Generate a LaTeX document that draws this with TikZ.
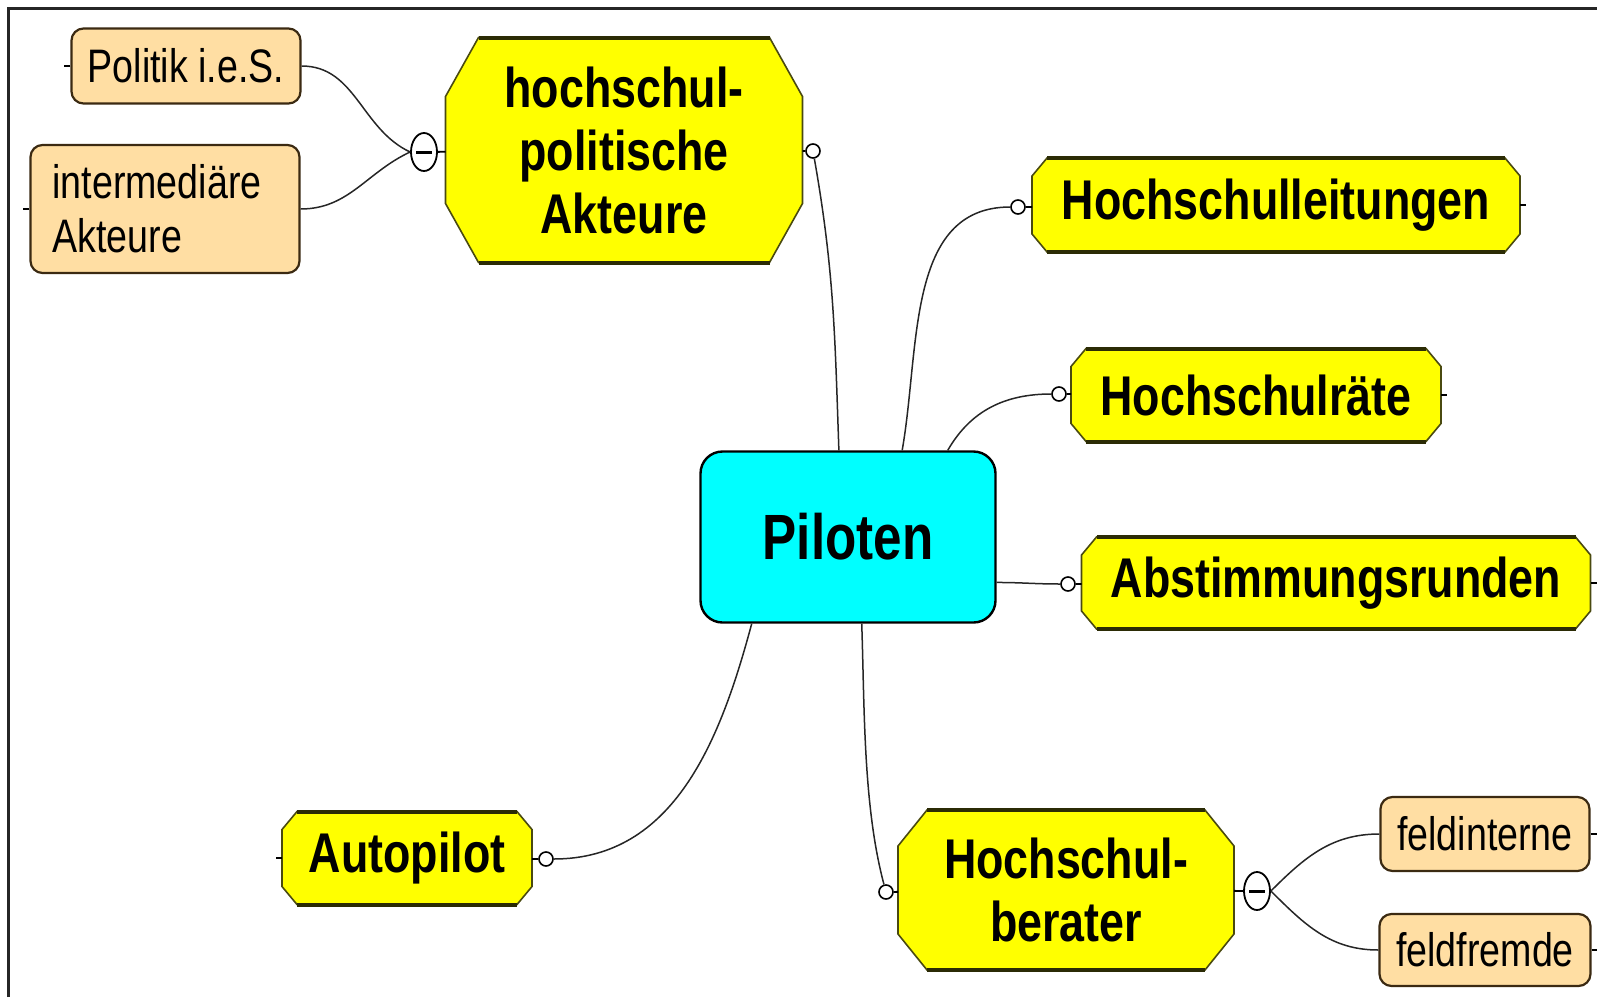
\documentclass[tikz,border=0pt]{standalone}
\usepackage{fontspec}
\setmainfont{Liberation Sans}[FakeStretch=0.8]
\usepackage{xcolor}
\usepackage{tikz}
\usetikzlibrary{shapes.geometric}
\usetikzlibrary{backgrounds}

\definecolor{gelb}{HTML}{FFFF00}
\definecolor{gelbrand}{HTML}{4A4A10}
\definecolor{gelbdunkel}{HTML}{2B2B05}
\definecolor{pfirsich}{HTML}{FFDEA3}
\definecolor{braun}{HTML}{3B2A12}
\definecolor{tuerkis}{HTML}{00FFFF}

% gelbes Achteck hinter einem Knoten: Name, Fase x, Fase y
\newcommand{\achteck}[3]{%
  \begin{scope}[on background layer]
    \filldraw[fill=gelb, draw=gelbrand, line width=0.8pt]
      ([xshift=#2]#1.north west) -- ([xshift=-#2]#1.north east) -- ([yshift=-#3]#1.north east)
      -- ([yshift=#3]#1.south east) -- ([xshift=-#2]#1.south east) -- ([xshift=#2]#1.south west)
      -- ([yshift=#3]#1.south west) -- ([yshift=-#3]#1.north west) -- cycle;
    \draw[gelbdunkel, line width=2pt] ([xshift=#2]#1.north west) -- ([xshift=-#2]#1.north east);
    \draw[gelbdunkel, line width=2pt] ([xshift=#2]#1.south west) -- ([xshift=-#2]#1.south east);
  \end{scope}}

\begin{document}
\begin{tikzpicture}[x=0.5pt,y=0.5pt,
  gelbknoten/.style={rectangle, inner sep=0pt, outer sep=0pt, align=center,
    font=\bfseries\fontsize{28}{31.5}\selectfont},
  orangeknoten/.style={rectangle, rounded corners=6pt, fill=pfirsich, draw=braun, line width=1.1pt,
    inner sep=0pt, font=\fontsize{23.5}{27}\selectfont},
  knopf/.style={circle, draw=black, fill=white, line width=0.8pt, inner sep=0pt, minimum size=7pt},
  minusknopf/.style={ellipse, draw=black, fill=white, line width=0.9pt, inner sep=0pt,
    minimum width=13pt, minimum height=19pt,
    path picture={\draw[line width=1.5pt] ([xshift=-4pt]path picture bounding box.center) -- ([xshift=4pt]path picture bounding box.center);}},
  linie/.style={draw=black!85, line width=0.75pt},
  stummel/.style={draw=black, line width=0.9pt}]

\useasboundingbox (0,0) rectangle (1597,-997);
\draw[line width=1.5pt, black!85] (8,-997) -- (8,-8) -- (1597,-8);

% Mitte
\node[rectangle, rounded corners=11pt, fill=tuerkis, draw=black, line width=1.2pt, inner sep=0pt,
  minimum width=147.5pt, minimum height=85.5pt, font=\bfseries\fontsize{32}{36}\selectfont] (pil) at (848,-537) {Piloten};

% Aeste
\node[gelbknoten, minimum width=178.5pt, minimum height=112.5pt] (hpa) at (624,-150) {hochschul-\\politische\\Akteure};
\node[gelbknoten, minimum width=244pt, minimum height=47pt] (hsl) at (1276,-205) {Hochschulleitungen};
\node[gelbknoten, minimum width=185pt, minimum height=46.5pt] (hsr) at (1256,-395) {Hochschulräte};
\node[gelbknoten, minimum width=254.5pt, minimum height=46pt] (abs) at (1336,-583) {Abstimmungsrunden};
\node[gelbknoten, minimum width=125pt, minimum height=46.5pt] (auto) at (407,-858) {Autopilot};
\node[gelbknoten, minimum width=168pt, minimum height=80pt] (hsb) at (1066,-890) {Hochschul-\\berater};
\achteck{hpa}{16.5pt}{29.5pt}
\achteck{hsl}{7.5pt}{9pt}
\achteck{hsr}{7.5pt}{9pt}
\achteck{abs}{7.5pt}{9pt}
\achteck{auto}{7.5pt}{9pt}
\achteck{hsb}{14.5pt}{18pt}

% Blaetter
\node[orangeknoten, minimum width=114.5pt, minimum height=37.5pt] (pol) at (186,-66) {Politik i.e.S.};
\node[orangeknoten, text width=112.5pt, inner xsep=11pt, minimum height=64pt, align=left] (inter) at (165,-209) {intermediäre\\Akteure};
\node[orangeknoten, minimum width=104.5pt, minimum height=37pt] (fin) at (1485,-834) {feldinterne};
\node[orangeknoten, minimum width=105.5pt, minimum height=36pt] (ffr) at (1485,-950) {feldfremde};

% Knoepfe
\node[knopf] (k1) at (813,-151) {};
\node[knopf] (k2) at (1018,-207) {};
\node[knopf] (k3) at (1059,-394) {};
\node[knopf] (k4) at (1068,-584) {};
\node[knopf] (k5) at (546,-859) {};
\node[knopf] (k6) at (886,-892) {};
\node[minusknopf] (m1) at (424,-152) {};
\node[minusknopf] (m2) at (1257,-891) {};

% Verbindungen
\draw[linie] (pil.96) to[out=92,in=-80] (k1);
\draw[linie] (pil.58) to[out=80,in=180] (k2);
\draw[linie] (pil.41) to[out=60,in=180] (k3);
\draw[linie] (pil.-17) to[out=0,in=180] (k4);
\draw[linie] (pil.222) to[out=-105,in=0] (k5);
\draw[linie] (pil.279) to[out=-88,in=105,looseness=0.8] (k6);
\draw[stummel] (k1) -- (hpa);
\draw[stummel] (k2) -- (hsl);
\draw[stummel] (k3) -- (hsr);
\draw[stummel] (k4) -- (abs);
\draw[stummel] (k5) -- (auto);
\draw[stummel] (k6) -- (hsb);
\draw[stummel] (m1) -- (hpa);
\draw[stummel] (m2) -- (hsb);
\draw[linie] (pol.east) to[out=0,in=155] (m1.west);
\draw[linie] (inter.east) to[out=0,in=205] (m1.west);
\draw[linie] (m2.east) to[out=45,in=180] (fin.west);
\draw[linie] (m2.east) to[out=-45,in=180] (ffr.west);

% Stummel
\draw[stummel] (pol.west) -- ++(-6,0);
\draw[stummel] (inter.west) -- ++(-6,0);
\draw[stummel] (hsl.east) -- ++(6,0);
\draw[stummel] (hsr.east) -- ++(6,0);
\draw[stummel] (abs.east) -- ++(6,0);
\draw[stummel] (auto.west) -- ++(-6,0);
\draw[stummel] (fin.east) -- ++(6,0);
\draw[stummel] (ffr.east) -- ++(6,0);

\end{tikzpicture}
\end{document}
